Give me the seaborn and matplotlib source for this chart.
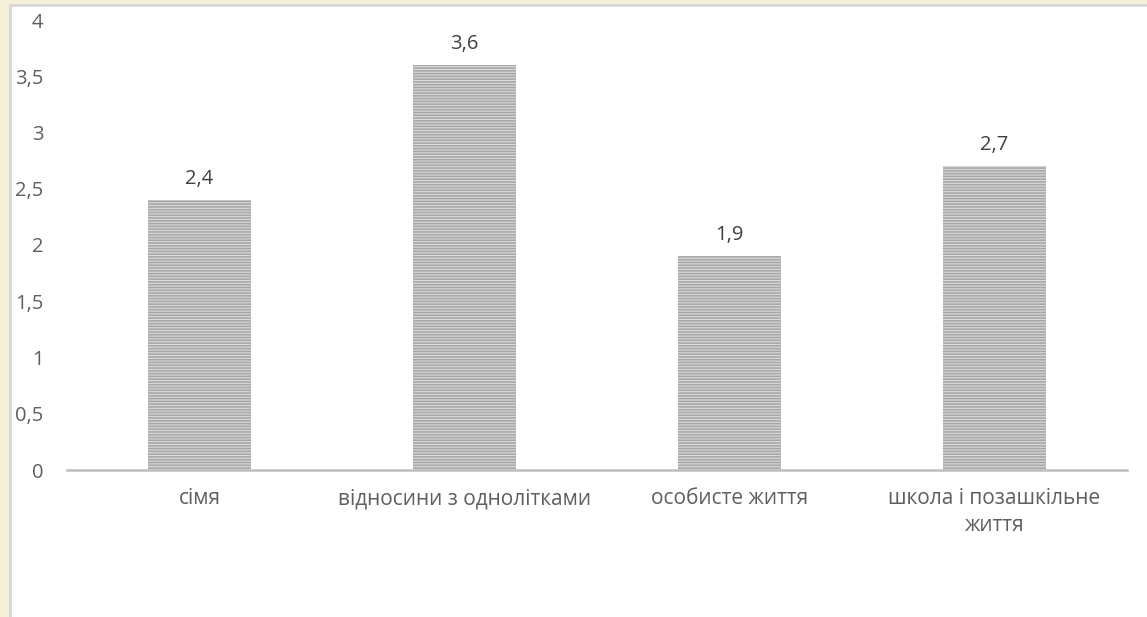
import matplotlib
matplotlib.use("Agg")
import matplotlib.pyplot as plt
import seaborn as sns
import pandas as pd
from matplotlib.patches import Rectangle

categories = ["сімя", "відносини з однолітками", "особисте життя", "школа і позашкільне\nжиття"]
values = [2.4, 3.6, 1.9, 2.7]
value_labels = ["2,4", "3,6", "1,9", "2,7"]
yticks = [0, 0.5, 1, 1.5, 2, 2.5, 3, 3.5, 4]
ytick_labels = ["0", "0,5", "1", "1,5", "2", "2,5", "3", "3,5", "4"]

sns.set_style("white")
plt.rcParams['font.family'] = ['Open Sans', 'DejaVu Sans']
plt.rcParams['hatch.linewidth'] = 1.2
plt.rcParams['hatch.color'] = '#a8a8a8'

df = pd.DataFrame({"cat": categories, "val": values})

fig = plt.figure(figsize=(11.47, 6.17), dpi=100)
fig.patch.set_facecolor("white")
ax = fig.add_axes([67/1147, 1 - 470/617, 1060/1147, 450/617])

sns.barplot(data=df, x="cat", y="val", color="#dadada", width=0.385, ax=ax,
            saturation=1, edgecolor="none", linewidth=0)
for p in ax.patches:
    p.set_hatch("------")
    p.set_edgecolor("#a8a8a8")
    p.set_linewidth(0)

for i, (v, lab) in enumerate(zip(values, value_labels)):
    ax.annotate(lab, (i, v), xytext=(0, 8), textcoords="offset points",
                ha="center", va="bottom", fontsize=14.5, color="#404040")

ax.set_ylim(0, 4)
ax.set_xlim(-0.5, 3.5)
ax.set_yticks(yticks)
ax.set_yticklabels(ytick_labels)
ax.set_xlabel("")
ax.set_ylabel("")
ax.tick_params(axis="y", length=0, pad=17, labelsize=14.5, labelcolor="#5f5f5f")
ax.tick_params(axis="x", length=0, pad=13, labelsize=15, labelcolor="#5f5f5f")
for lab in ax.get_yticklabels():
    lab.set_horizontalalignment("right")
for lab in ax.get_xticklabels():
    lab.set_linespacing(1.35)
for s in ["left", "right", "top"]:
    ax.spines[s].set_visible(False)
ax.spines["bottom"].set_color("#bfbfbf")
ax.spines["bottom"].set_linewidth(1.8)
ax.set_facecolor("none")

# cream frame at left and top
fig.patches.append(Rectangle((0, 0), 9/1147, 1, transform=fig.transFigure,
                             facecolor="#f5f0d8", edgecolor="none", zorder=-1))
fig.patches.append(Rectangle((0, 1 - 4/617), 1, 4/617, transform=fig.transFigure,
                             facecolor="#f5f0d8", edgecolor="none", zorder=-1))
fig.patches.append(Rectangle((9/1147, 0), 3/1147, 1 - 4/617, transform=fig.transFigure,
                             facecolor="#d9d9d9", edgecolor="none", zorder=-1))
fig.patches.append(Rectangle((9/1147, 1 - 7/617), 1 - 9/1147, 3/617, transform=fig.transFigure,
                             facecolor="#d9d9d9", edgecolor="none", zorder=-1))

fig.savefig("out.png", dpi=100)
